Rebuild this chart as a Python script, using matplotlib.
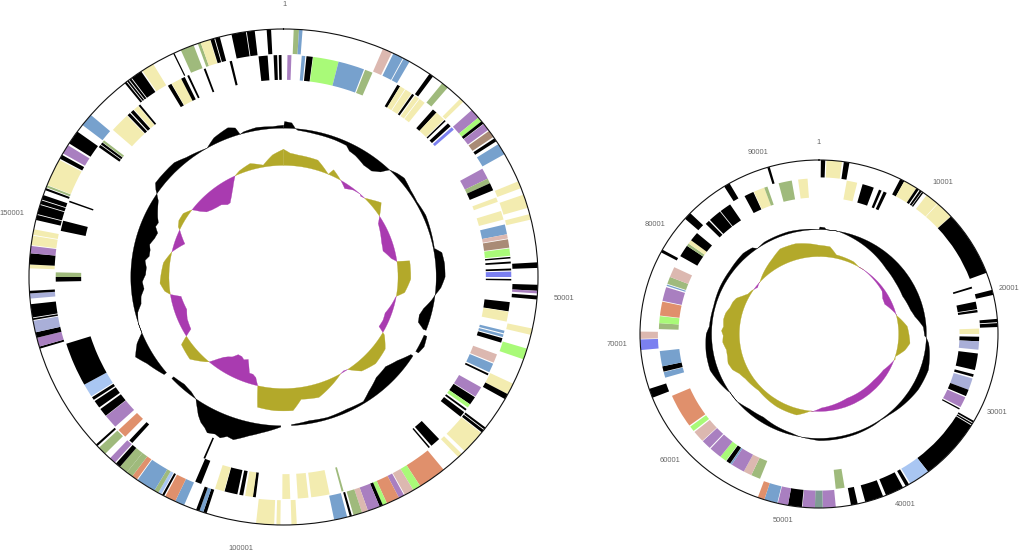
import numpy as np
import matplotlib
matplotlib.use('Agg')
import matplotlib.pyplot as plt

plt.rcParams['font.family'] = ['Liberation Sans', 'DejaVu Sans']

W, H = 1020, 552

# gene class -> colour
colours = {
    'K': '#000000', 'Y': '#f3ecb0', 'G': '#9fba7c', 'B': '#77a1cd', 'P': '#dcb8b0',
    'L': '#a9fa78', 'U': '#a97fc0', 'R': '#a98b76', 'W': '#7b80f0', 'C': '#a9c6f2',
    'V': '#a9afd8', 'O': '#e0906c', 'T': '#7f9c94',
}
gc_colour = '#000000'
skew_up = '#b3a92a'
skew_down = '#a93bb0'
label_colour = '#666666'

# all features in degrees clockwise from the "1" mark: (start, end, class)
big_outer = [
    (2.3, 3.5, 'G'), (3.5, 4.3, 'B'), (23, 25.2, 'P'), (25.6, 28, 'B'), (28.2, 29.7, 'B'),
    (35, 36, 'K'), (38.6, 40.2, 'G'), (44, 45, 'Y'), (47.7, 50, 'U'), (50, 51.1, 'L'),
    (51.1, 51.8, 'K'), (51.9, 53.6, 'U'), (53.9, 55.6, 'R'), (56, 56.8, 'K'), (57.6, 60.3, 'B'),
    (67.3, 69, 'Y'), (70.6, 73.8, 'Y'), (75.3, 76.6, 'Y'), (86.6, 87.9, 'K'), (91.8, 93.2, 'K'),
    (93.2, 93.8, 'U'), (94.3, 95.2, 'K'), (102, 103.5, 'Y'), (106.8, 109.4, 'L'),
    (115.5, 118.2, 'Y'), (118.2, 119.5, 'K'), (127.4, 127.9, 'K'), (128.1, 128.8, 'K'),
    (129, 134.6, 'Y'), (135.5, 136.6, 'Y'), (141, 147.5, 'O'), (147.5, 149.3, 'L'),
    (149.3, 151.5, 'P'), (151.7, 153, 'U'), (153, 156, 'O'), (156, 157, 'L'), (157, 157.8, 'K'),
    (157.8, 160.6, 'U'), (160.6, 162, 'P'), (162, 164, 'G'), (164.4, 164.9, 'K'),
    (165.5, 168.5, 'B'), (177, 178.2, 'Y'), (180.7, 181.6, 'Y'), (182.1, 186.2, 'Y'),
    (197.6, 198.4, 'K'), (198.4, 199.3, 'B'), (199.3, 200.1, 'K'), (203, 205.2, 'B'),
    (205.2, 207.7, 'O'), (208, 208.5, 'K'), (208.7, 209.5, 'C'), (209.5, 210.5, 'G'),
    (210.5, 215, 'B'), (215.2, 216.5, 'O'), (216.5, 218, 'G'), (218, 220, 'G'), (220, 221.2, 'K'),
    (221.5, 223, 'U'), (224.5, 226.5, 'G'), (227, 227.5, 'K'), (253.2, 253.7, 'K'),
    (253.7, 255.8, 'U'), (255.8, 257.1, 'K'), (257.1, 259.8, 'V'), (260, 260.4, 'K'),
    (260.6, 263.7, 'K'), (265, 266.2, 'V'), (266.2, 266.8, 'K'), (272, 272.9, 'Y'),
    (272.9, 275.5, 'K'), (275.5, 277.2, 'U'), (277.4, 279.6, 'Y'), (279.8, 281.1, 'Y'),
    (283.3, 284.5, 'K'), (284.7, 286.9, 'K'), (287.1, 288, 'K'), (288.2, 289.3, 'K'),
    (290.5, 291, 'K'), (291.2, 291.7, 'G'), (291.8, 298.2, 'Y'), (298.5, 299.5, 'K'),
    (299.9, 302.1, 'U'), (302.6, 305.9, 'K'), (307.8, 310.8, 'B'), (321.4, 321.9, 'K'),
    (322.1, 322.5, 'K'), (322.7, 323.2, 'K'), (323.4, 326, 'K'), (326.3, 329.2, 'Y'),
    (334.3, 334.6, 'K'), (336.2, 339.3, 'G'), (340.3, 341, 'G'), (341, 343.2, 'Y'),
    (343.3, 344.2, 'K'), (344.4, 345.5, 'K'), (348.2, 351.5, 'K'), (351.7, 353.5, 'K'),
    (356.2, 357.2, 'K'),
]
big_inner = [
    (1, 2, 'U'), (4.6, 5.5, 'B'), (5.8, 7.4, 'K'), (7.5, 14, 'L'), (14, 20.7, 'B'), (21, 23, 'G'),
    (30, 30.8, 'K'), (30.8, 32.2, 'Y'), (32.4, 34.2, 'Y'), (34.4, 35, 'K'), (35.3, 36.5, 'Y'),
    (36.7, 38.3, 'Y'), (41, 42.2, 'K'), (42.2, 44.8, 'Y'), (45, 45.4, 'K'), (46.2, 47.2, 'K'),
    (47.6, 48.4, 'W'), (60.8, 63.7, 'U'), (63.7, 65, 'G'), (65, 67, 'K'), (69, 70.2, 'Y'),
    (72.7, 75, 'Y'), (76.3, 78.9, 'B'), (78.9, 80, 'P'), (80.2, 82.4, 'R'), (82.6, 84.5, 'L'),
    (84.8, 85.2, 'K'), (86, 86.5, 'K'), (87.8, 88.3, 'K'), (88.6, 90, 'W'), (90.5, 90.9, 'K'),
    (96.5, 98.9, 'K'), (99, 101.6, 'Y'), (104, 104.7, 'B'), (105, 105.7, 'B'), (106, 107.2, 'K'),
    (110.4, 112.7, 'P'), (113, 115.4, 'B'), (115.8, 116.3, 'K'), (119.8, 122.6, 'U'),
    (122.8, 125, 'K'), (125, 126, 'L'), (126.5, 127, 'K'), (127.5, 129, 'K'), (136.9, 139.5, 'K'),
    (140, 140.4, 'K'), (164.7, 165.2, 'G'), (168.3, 173, 'Y'), (173.7, 176.4, 'Y'),
    (178.3, 180.3, 'Y'), (187, 187.8, 'K'), (187.7, 189.7, 'Y'), (190.2, 191.2, 'K'),
    (191.7, 195, 'K'), (195.1, 197.5, 'Y'), (201.2, 202.8, 'K'), (221.6, 222.6, 'K'),
    (224, 226.4, 'O'), (227.6, 231.2, 'U'), (231.3, 233.5, 'K'), (234, 236, 'K'),
    (236.4, 237.2, 'K'), (237.5, 241, 'C'), (241, 252.5, 'K'), (268.8, 270, 'K'),
    (270, 271.2, 'G'), (282, 284.7, 'K'), (289.7, 290.1, 'K'), (305.8, 306.5, 'K'),
    (306.7, 307.3, 'K'), (307.4, 308, 'G'), (311.5, 316.6, 'Y'), (316.8, 317.6, 'K'),
    (317.9, 318.8, 'K'), (319, 320.4, 'Y'), (320.5, 321, 'K'), (329.5, 330.5, 'K'),
    (330.6, 333.3, 'Y'), (333.3, 334.3, 'K'), (335, 335.5, 'K'), (339.5, 340, 'K'),
    (346.3, 346.9, 'K'), (353.7, 356, 'K'), (357.5, 358.4, 'K'), (358.8, 359.5, 'K'),
]
big_third = [(202.8, 203.3, 'K')]

small_outer = [
    (0.6, 2, 'K'), (2.4, 7.4, 'Y'), (8, 9.8, 'K'), (27, 28.5, 'K'), (28.5, 33, 'Y'), (33, 33.9, 'K'),
    (34.3, 35, 'K'), (35.2, 35.7, 'K'), (37, 41.4, 'Y'), (41.6, 47.4, 'Y'), (47.5, 69.4, 'K'),
    (75.3, 77, 'K'), (85, 86.1, 'K'), (86.4, 87.7, 'K'), (120, 120.6, 'K'), (120.9, 121.4, 'K'),
    (121.7, 142.4, 'K'), (142.4, 149.3, 'C'), (149.8, 151, 'K'), (152, 158, 'K'), (159, 165, 'K'),
    (167.5, 169.7, 'K'), (174.6, 178.8, 'U'), (178.8, 181.3, 'T'), (181.3, 185.3, 'U'),
    (185.5, 190, 'K'), (190, 193.3, 'U'), (193.5, 197.8, 'B'), (197.8, 200, 'O'),
    (248.5, 251.6, 'K'), (264.7, 268.2, 'W'), (268.4, 270.8, 'P'), (298, 299, 'K'),
    (311.5, 314, 'K'), (328, 330, 'K'), (343.2, 344, 'K'),
]
small_inner = [
    (10, 13.8, 'Y'), (15.8, 20, 'K'), (22, 23, 'K'), (23.8, 25, 'K'), (72.3, 73, 'K'), (78, 80.8, 'K'),
    (81.1, 82, 'K'), (88, 90, 'Y'), (91, 92.7, 'K'), (92.7, 95.8, 'V'), (97.2, 103.4, 'K'),
    (105, 106, 'K'), (106.6, 111, 'V'), (111, 113.5, 'K'), (114, 118, 'U'), (118.5, 119, 'K'),
    (170.8, 174, 'G'), (201.6, 205, 'G'), (205, 208, 'P'), (208, 213, 'U'), (213, 213.6, 'B'),
    (213.7, 215.3, 'K'), (215.5, 218, 'L'), (218, 222.6, 'U'), (223, 226.5, 'U'), (226.7, 231, 'P'),
    (231.5, 233.5, 'L'), (234, 246.6, 'O'), (253.7, 255.8, 'B'), (256, 258, 'K'), (258, 263.7, 'B'),
    (271.8, 274, 'G'), (274, 276.6, 'L'), (276.8, 282, 'O'), (282.3, 287.5, 'U'), (288, 288.5, 'B'),
    (288.8, 291.5, 'G'), (291.5, 295.4, 'P'), (300, 304.5, 'K'), (304.5, 305.5, 'G'),
    (305.5, 307, 'Y'), (307, 310.4, 'K'), (315, 316.6, 'K'), (317.1, 321.8, 'K'), (322.1, 326.3, 'K'),
    (332.3, 335.8, 'K'), (336, 340, 'Y'), (340, 341.2, 'G'), (345.4, 350.2, 'G'), (352.5, 355.9, 'Y'),
]

# GC content, deviation from its ring
big_gc_angle = [0, 0.4, 3, 4.5, 5.5, 12, 20, 25, 27, 30, 35, 39, 42, 44, 47, 50, 55, 60, 66, 72, 79, 81,
                85, 90, 94, 97, 99, 103, 106, 109, 111, 113, 117, 120, 122, 127, 132, 138, 144, 148,
                155, 163, 170, 177, 181, 188, 192, 196.7, 199, 201, 203, 205.5, 207, 209, 211, 212.5,
                215, 218, 222, 227, 230, 237, 241, 245, 248, 252, 256, 259, 262, 265, 268, 271, 274,
                277, 279, 281.7, 284, 287, 289.7, 292, 294, 296, 299, 302, 304, 305, 307, 317, 321.6,
                330, 334, 340, 342.5, 343.5, 345, 350, 356, 360]
big_gc_value = [0, .027, .022, 0, -.006, -.01, -.012, -.015, -.03, -.035, -.05, -.05, -.03, 0, .012, .02,
                .01, .006, .012, .008, .004, .03, .035, .035, .02, 0, -.01, -.035, -.045, -.04, -.012,
                .012, .02, .012, -.01, -.04, -.06, -.055, -.03, -.008, -.012, -.008, -.012, -.004, .005,
                .035, .055, .085, .08, .095, .088, .096, .082, .07, .05, .03,
                0, -.012, -.018, -.01, .012, .04, .065, .035, 0, 0, -.01, -.03, -.035, -.05, -.045, -.058,
                -.06, -.052, -.066, -.065, -.058, -.07, -.075, -.058, -.062, -.05, -.035, -.02, 0, .012,
                .03, .03, .015, 0, .024, .04, .03, 0, .006, .012, .008, .012]
big_skew_angle = [0, 3, 6.7, 16, 23, 24.5, 30, 31, 34, 38, 42, 43, 45, 48, 52, 57, 60, 65, 70, 75, 80, 82,
                  82.5, 90, 91, 97.5, 100, 100.5, 105, 110, 114, 118, 119.8, 120.5, 126, 134, 141, 146,
                  148, 150, 155, 164, 172, 176, 184, 191, 193, 195, 197, 199, 201, 202.6, 205, 207, 209.6,
                  212, 214, 216, 218, 220.5, 222, 228, 235.8, 238, 240, 246, 251, 259, 261, 263, 267, 277,
                  283, 286, 289, 295, 296, 299, 303, 307, 309, 311, 314, 317, 320, 323, 325, 328, 331, 333,
                  335, 338, 344, 350, 355, 360]
big_skew_value = [.065, .05, .045, .04, 0, .025, 0, -.005, -.02, -.005, 0, -.005, 0, .015, .037, 0, -.02,
                  -.03, -.04, -.045, -.02, 0, .05, .05, .05, .03, 0, -.002, -.012, -.025, -.022, -.025, 0,
                  .01, .044, .053, .038, 0, -.004, 0, .02, .055, .048, .09, .09, .085, 0, -.03, -.04, -.04,
                  -.07, -.09, -.082, -.09, -.09, -.07, -.062, -.05, -.03, 0, .01, .045, .035, 0, -.03, -.036,
                  -.048, -.04, 0, .02, .036, .025, 0, -.02, -.04, 0, .01, .02, .02, 0, -.03, -.05, -.06,
                  -.066, -.07, -.085, -.085, -.065, -.04, -.02, 0, .012, .026, .008, .044, .065]

small_gc_angle = [0, 0.5, 3, 4, 10, 15, 25, 35, 45, 55, 65, 75, 79.4, 86, 91, 92, 95, 99, 108.7, 120, 133,
                  140, 145, 150, 160, 170, 180, 183, 190, 195, 205, 213, 222, 230, 236, 237, 243, 251,
                  260, 270, 274, 285, 296, 306.5, 317.6, 323, 325, 330, 344, 355, 360]
small_gc_value = [0, .015, .012, 0, 0, -.01, -.03, -.05, -.07, -.08, -.085, -.07, -.055, -.016, -.01, 0,
                  .015, .025, .045, .04, .02, .008, .004, .008, .012, .013, .013, .008, 0, -.01, -.02, -.03,
                  -.02, 0, 0, .005, .022, .043, .04, .03, .014, .01, .016, .018, .028, .02, 0, .01, .012,
                  .005, 0]
small_skew_angle = [0, 7, 12, 25, 30, 34, 45, 55, 60, 65, 70, 75, 76, 85, 96, 101, 107, 109, 110, 120, 131,
                    157, 172, 178, 184, 186, 195, 209.5, 226, 238, 243, 247, 251.6, 256, 260, 265, 269, 272,
                    274.5, 279, 283, 287, 291, 294, 297, 300, 304, 305, 308, 311, 312, 318, 329, 336, 346,
                    356, 360]
small_skew_value = [.065, .06, .02, .013, 0, 0, -.008, -.015, -.035, -.04, -.02, 0, 0, .05, .066, .044, 0,
                    .005, 0, -.03, -.04, -.044, -.027, -.02, 0, 0, .037, .035, .023, .04, .055, .08, .09,
                    .082, .08, .095, .09, .1, .09, .095, .09, .075, .07, .06, .035, .014, .005, 0, -.01, 0,
                    0, .022, .06, .09, .09, .073, .065]

# text labels on each map
big_labels = ['1', '50001', '100001', '150001']
small_labels = ['1', '10001', '20001', '30001', '40001', '50001', '60001', '70001', '80001', '90001']


def make_ring_axes(left, right, top, bottom):
    ax = fig.add_axes([left / W, 1 - bottom / H, (right - left) / W, (bottom - top) / H],
                      projection='polar')
    ax.set_aspect('auto')
    ax.set_theta_zero_location('N')
    ax.set_theta_direction(-1)
    ax.set_ylim(0, 1)
    ax.set_xticks([])
    ax.set_yticks([])
    ax.grid(False)
    ax.spines['polar'].set_linewidth(0.8)
    ax.spines['polar'].set_color('#111111')
    return ax


def draw_track(ax, features, r0, r1):
    for start, end, kind in features:
        ax.bar(np.radians(start), r1 - r0, width=np.radians(end - start), bottom=r0,
               align='edge', color=colours[kind], linewidth=0)


def draw_profile(ax, angle, value, base, up, down):
    t = np.radians(angle)
    v = np.array(value)
    for mask, colour in ((v >= 0, up), (v <= 0, down)):
        coll = ax.fill_between(t, base, base + v, where=mask, color=colour, linewidth=0.2)
        # bend the straight edges round the ring
        for path in coll.get_paths():
            path._interpolation_steps = 40


def put_label(text, x, y):
    fig.text(x / W, 1 - y / H, text, fontsize=5.4, color=label_colour, ha='center', va='center')


fig = plt.figure(figsize=(W / 100, H / 100), dpi=100)

ax = make_ring_axes(29, 538, 29, 525)
draw_track(ax, big_outer, 0.9, 1.0)
draw_track(ax, big_inner, 0.795, 0.895)
draw_track(ax, big_third, 0.705, 0.795)
draw_profile(ax, big_gc_angle, big_gc_value, 0.6, gc_colour, gc_colour)
draw_profile(ax, big_skew_angle, big_skew_value, 0.45, skew_up, skew_down)

ax2 = make_ring_axes(640, 998, 160, 508)
draw_track(ax2, small_outer, 0.9, 1.0)
draw_track(ax2, small_inner, 0.785, 0.895)
draw_profile(ax2, small_gc_angle, small_gc_value, 0.6, gc_colour, gc_colour)
draw_profile(ax2, small_skew_angle, small_skew_value, 0.445, skew_up, skew_down)

for text, (x, y) in zip(big_labels, [(285, 4), (564, 299), (241, 548), (12, 214)]):
    put_label(text, x, y)
for text, (x, y) in zip(small_labels, [(819, 143), (943, 182), (1009, 289), (997, 413), (905, 504),
                                       (783, 521), (670, 461), (617, 345), (655, 224), (758, 152)]):
    put_label(text, x, y)

fig.savefig('out.png', dpi=100)
